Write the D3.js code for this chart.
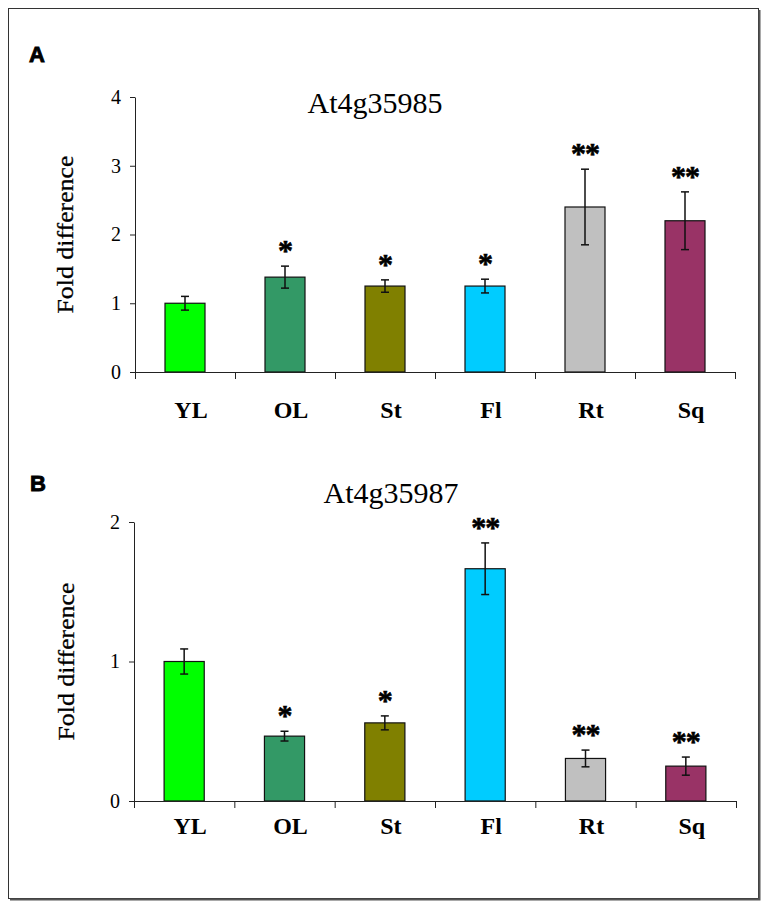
<!DOCTYPE html>
<html>
<head>
<meta charset="utf-8">
<script src="https://cdn.jsdelivr.net/npm/d3@7"></script>
<style>
  html, body { margin: 0; padding: 0; background: #fff; }
  svg { display: block; }
</style>
</head>
<body>
<svg id="chart" width="768" height="908"></svg>
<script>
// ---- data ----
const categories = ["YL", "OL", "St", "Fl", "Rt", "Sq"];
const barColors = ["#00ff00", "#339966", "#808000", "#00ccff", "#c0c0c0", "#993366"];

const titleA = "At4g35985";
const valuesA = [1.0, 1.38, 1.25, 1.25, 2.4, 2.2];
const errorsA = [0.1, 0.16, 0.09, 0.1, 0.55, 0.42];
const sigA = ["", "*", "*", "*", "**", "**"];
const ticksA = [0, 1, 2, 3, 4];

const titleB = "At4g35987";
const valuesB = [1.0, 0.465, 0.56, 1.665, 0.305, 0.25];
const errorsB = [0.09, 0.035, 0.05, 0.185, 0.06, 0.065];
const sigB = ["", "*", "*", "**", "**", "**"];
const ticksB = [0, 1, 2];

const yLabel = "Fold difference";

// ---- layout ----
const svg = d3.select("#chart");
const serif = "'Liberation Serif', 'Times New Roman', serif";

// outer frame
svg.append("rect").attr("x", 8.5).attr("y", 8.5).attr("width", 750).attr("height", 890)
  .attr("fill", "none").attr("stroke", "#333").attr("stroke-width", 1);
svg.append("path").attr("d", "M10,899.5H759.5V10")
  .attr("fill", "none").attr("stroke", "#555").attr("stroke-width", 2);

const panels = [
  { letter: "A", title: titleA, values: valuesA, errors: errorsA, sig: sigA, ticks: ticksA,
    left: 135, right: 735, top: 97, bottom: 372,
    letterX: 29, letterY: 62, titleX: 375, titleY: 113, yLabX: 73, labDy: 46 },
  { letter: "B", title: titleB, values: valuesB, errors: errorsB, sig: sigB, ticks: ticksB,
    left: 134, right: 736, top: 522, bottom: 801,
    letterX: 30, letterY: 491, titleX: 391, titleY: 503, yLabX: 74, labDy: 33 }
];

panels.forEach(p => {
  const g = svg.append("g");
  const yMax = d3.max(p.ticks);
  const x = d3.scaleBand().domain(categories).range([p.left, p.right])
    .paddingInner(0.6).paddingOuter(0.3);
  const xEdges = d3.scaleLinear().domain([0, categories.length]).range([p.left, p.right]);
  const y = d3.scaleLinear().domain([0, yMax]).range([p.bottom, p.top]);

  // panel letter
  g.append("text").attr("x", p.letterX).attr("y", p.letterY).text(p.letter)
    .attr("font-family", "'Liberation Sans', Arial, sans-serif").attr("font-weight", "bold")
    .attr("font-size", 22).attr("stroke", "#000").attr("stroke-width", 0.9).attr("fill", "#000");

  // title
  g.append("text").attr("x", p.titleX).attr("y", p.titleY).attr("text-anchor", "middle")
    .attr("font-family", serif).attr("font-size", 30).attr("fill", "#000").text(p.title);

  // y label
  g.append("text")
    .attr("transform", `translate(${p.yLabX},${(p.top + p.bottom) / 2}) rotate(-90)`)
    .attr("text-anchor", "middle").attr("font-family", serif).attr("font-size", 24)
    .attr("textLength", 158).attr("lengthAdjust", "spacingAndGlyphs")
    .attr("stroke", "#000").attr("stroke-width", 0.3)
    .attr("fill", "#000").text(yLabel);

  // y axis
  const yAxis = g.append("g").attr("transform", `translate(${p.left},0)`)
    .call(d3.axisLeft(y).tickValues(p.ticks).tickFormat(d3.format("d")).tickSize(5).tickSizeOuter(0).tickPadding(9));
  yAxis.select(".domain").attr("stroke", "#222");
  yAxis.selectAll(".tick line").attr("stroke", "#222");
  yAxis.selectAll("text").attr("font-family", serif).attr("font-size", 20).attr("fill", "#000");

  // bars
  g.selectAll("rect.bar").data(categories).join("rect").attr("class", "bar")
    .attr("x", d => x(d)).attr("width", x.bandwidth())
    .attr("y", (d, i) => y(p.values[i]))
    .attr("height", (d, i) => y(0) - y(p.values[i]))
    .attr("fill", (d, i) => barColors[i]).attr("stroke", "#111").attr("stroke-width", 1.2);

  // error bars
  const eb = g.selectAll("g.err").data(categories).join("g").attr("class", "err")
    .attr("stroke", "#111").attr("stroke-width", 1.5);
  eb.append("line")
    .attr("x1", d => x(d) + x.bandwidth() / 2).attr("x2", d => x(d) + x.bandwidth() / 2)
    .attr("y1", (d, i) => y(p.values[i] + p.errors[i]))
    .attr("y2", (d, i) => y(p.values[i] - p.errors[i]));
  [1, -1].forEach(s => {
    eb.append("line")
      .attr("x1", d => x(d) + x.bandwidth() / 2 - 4).attr("x2", d => x(d) + x.bandwidth() / 2 + 4)
      .attr("y1", (d, i) => y(p.values[i] + s * p.errors[i]))
      .attr("y2", (d, i) => y(p.values[i] + s * p.errors[i]));
  });

  // significance stars
  g.selectAll("text.sig").data(categories).join("text").attr("class", "sig")
    .attr("x", d => x(d) + x.bandwidth() / 2)
    .attr("y", (d, i) => y(p.values[i] + p.errors[i]) - 6)
    .attr("text-anchor", "middle").attr("font-family", serif).attr("font-weight", "bold")
    .attr("font-size", 30).attr("letter-spacing", -1).attr("fill", "#000")
    .attr("stroke", "#000").attr("stroke-width", 0.6)
    .text((d, i) => p.sig[i]);

  // x axis: boundary ticks
  const xb = g.append("g").attr("transform", `translate(0,${p.bottom})`)
    .call(d3.axisBottom(xEdges).ticks(categories.length).tickFormat("").tickSize(7).tickSizeOuter(0));
  xb.select(".domain").attr("stroke", "#222");
  xb.selectAll(".tick line").attr("stroke", "#222");

  // x axis: category labels
  const xl = g.append("g").attr("transform", `translate(6,${p.bottom})`)
    .call(d3.axisBottom(x).tickSize(0).tickPadding(p.labDy - 17));
  xl.select(".domain").remove();
  xl.selectAll("text").attr("font-family", serif).attr("font-weight", "bold")
    .attr("font-size", 24).attr("fill", "#000");
});
</script>
</body>
</html>
